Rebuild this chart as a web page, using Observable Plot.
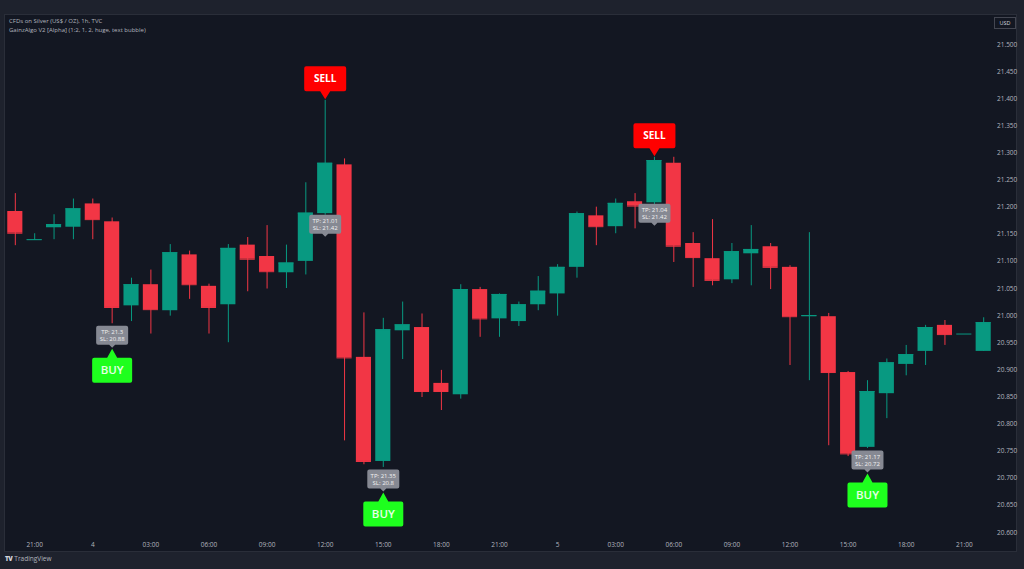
<!DOCTYPE html>
<html><head><meta charset="utf-8">
<script src="https://cdn.jsdelivr.net/npm/d3@7"></script>
<script src="https://cdn.jsdelivr.net/npm/@observablehq/plot@0.6"></script>
<style>
html,body{margin:0;padding:0;background:#1e222d;width:1024px;height:569px;overflow:hidden;font-family:"Open Sans",sans-serif;}
#pane{position:absolute;left:4px;top:14px;width:1013px;height:538px;background:#131722;border:1px solid #2a2e39;box-sizing:border-box}
#chart{position:absolute;left:0;top:14px}
#legend{position:absolute;left:9px;top:16.5px;color:#b2b5be;font-size:6px;line-height:9px;white-space:nowrap}
#usd{position:absolute;left:994px;top:17px;width:22px;height:12px;border:1px solid #434651;box-sizing:border-box;color:#d1d4dc;font-size:5.5px;line-height:10px;text-align:center}
#tv{position:absolute;left:5px;top:554px;color:#b2b5be;font-size:6.5px;white-space:nowrap}
#tv b{font-weight:900;color:#d1d4dc;letter-spacing:-0.5px;margin-right:2px}
</style></head><body>
<div id="pane"></div>
<div id="chart"></div>
<div id="legend">CFDs on Silver (US$ / OZ), 1h, TVC<br>GainzAlgo V2 [Alpha] (1:2, 1, 2, huge, text bubble)</div>
<div id="usd">USD</div>
<div id="tv"><b>TV</b>TradingView</div>
<script>
// hourly candles from day 3 20:00 to day 5 22:00
const opens  = [21.192,21.139,21.162,21.163,21.206,21.173,21.018,21.057,21.009,21.112,21.054,21.020,21.130,21.109,21.079,21.100,21.188,21.278,20.923,20.731,20.972,20.978,20.875,20.854,21.048,20.994,20.989,21.020,21.040,21.089,21.184,21.164,21.210,21.208,21.281,21.133,21.105,21.066,21.114,21.127,21.089,20.998,20.998,20.895,20.757,20.856,20.910,20.934,20.982,20.966,20.934];
const highs  = [21.225,21.151,21.186,21.215,21.215,21.180,21.069,21.084,21.131,21.119,21.058,21.131,21.144,21.166,21.130,21.245,21.397,21.289,21.005,20.995,21.025,21.003,20.899,21.057,21.052,21.040,21.025,21.072,21.094,21.191,21.200,21.215,21.225,21.292,21.292,21.153,21.177,21.133,21.166,21.133,21.092,21.153,21.004,20.897,20.880,20.920,20.945,20.982,20.991,20.966,20.996];
const lows   = [21.129,21.139,21.140,21.140,21.140,20.985,20.989,20.966,20.999,21.030,20.966,20.950,21.044,21.049,21.050,21.075,21.185,20.769,20.725,20.720,20.919,20.849,20.825,20.846,20.960,20.960,20.980,21.009,20.999,21.069,21.129,21.151,21.160,21.200,21.098,21.052,21.055,21.059,21.055,21.048,20.908,20.880,20.760,20.740,20.755,20.810,20.889,20.908,20.945,20.966,20.934];
const closes = [21.152,21.140,21.168,21.197,21.177,21.015,21.057,21.011,21.116,21.057,21.015,21.124,21.104,21.081,21.097,21.189,21.281,20.922,20.731,20.974,20.983,20.860,20.860,21.048,20.994,21.039,21.020,21.045,21.089,21.188,21.164,21.207,21.202,21.286,21.128,21.107,21.065,21.118,21.122,21.089,20.998,21.000,20.895,20.745,20.860,20.913,20.928,20.978,20.965,20.966,20.987];

// signals: candle index, type, take profit, stop loss
const sigIndex = [5, 16, 19, 33, 44];
const sigType  = ["BUY","SELL","BUY","SELL","BUY"];
const sigTP    = [21.3, 21.01, 21.35, 21.04, 21.17];
const sigSL    = [20.88, 21.42, 20.8, 21.42, 20.72];

const xTicks = [1,4,7,10,13,16,19,22,25,28,31,34,37,40,43,46,49];
const xTickLabels = ["21:00","4","03:00","06:00","09:00","12:00","15:00","18:00","21:00","5","03:00","06:00","09:00","12:00","15:00","18:00","21:00"];
const yTicks = [20.6,20.65,20.7,20.75,20.8,20.85,20.9,20.95,21.0,21.05,21.1,21.15,21.2,21.25,21.3,21.35,21.4,21.45,21.5];

const GREEN = "#089981", RED = "#f23645";
const n = opens.length;
const candles = opens.map((o, i) => ({i, open:o, high:highs[i], low:lows[i], close:closes[i], col: closes[i] >= o ? GREEN : RED}));
const signals = sigIndex.map((k, j) => ({
  i:k, type:sigType[j], label:`TP: ${sigTP[j]}\nSL: ${sigSL[j]}`,
  high:highs[k], low:lows[k], bodyLow:Math.min(opens[k], closes[k])
}));
const buys = signals.filter(d => d.type === "BUY");
const sells = signals.filter(d => d.type === "SELL");
const labelMap = new Map(xTicks.map((t, k) => [t, xTickLabels[k]]));

const sellShape = {draw(ctx) {
  ctx.moveTo(0, 0); ctx.lineTo(5, -8); ctx.lineTo(19, -8); ctx.arcTo(21, -8, 21, -10, 2);
  ctx.lineTo(21, -31); ctx.arcTo(21, -33, 19, -33, 2); ctx.lineTo(-19, -33); ctx.arcTo(-21, -33, -21, -31, 2);
  ctx.lineTo(-21, -10); ctx.arcTo(-21, -8, -19, -8, 2); ctx.lineTo(-5, -8); ctx.closePath();
}};
const buyShape = {draw(ctx) {
  ctx.moveTo(0, 0); ctx.lineTo(5, 9); ctx.lineTo(18, 9); ctx.arcTo(20, 9, 20, 11, 2);
  ctx.lineTo(20, 32); ctx.arcTo(20, 34, 18, 34, 2); ctx.lineTo(-18, 34); ctx.arcTo(-20, 34, -20, 32, 2);
  ctx.lineTo(-20, 11); ctx.arcTo(-20, 9, -18, 9, 2); ctx.lineTo(-5, 9); ctx.closePath();
}};
const infoShape = {draw(ctx) {
  ctx.moveTo(-14, 0); ctx.lineTo(14, 0); ctx.arcTo(16, 0, 16, 2, 2); ctx.lineTo(16, 17); ctx.arcTo(16, 19, 14, 19, 2);
  ctx.lineTo(3, 19); ctx.lineTo(0, 22); ctx.lineTo(-3, 19); ctx.lineTo(-14, 19); ctx.arcTo(-16, 19, -16, 17, 2);
  ctx.lineTo(-16, 2); ctx.arcTo(-16, 0, -14, 0, 2); ctx.closePath();
}};

const chart = Plot.plot({
  width: 1024, height: 537,
  marginLeft: 3, marginRight: 29, marginTop: 30, marginBottom: 19,
  style: {background: "transparent", color: "#b2b5be", fontFamily: "Open Sans, sans-serif", fontSize: "6.5px", overflow: "visible"},
  x: {type: "band", domain: d3.range(n), padding: 0.22, round: false, axis: null},
  y: {domain: [20.6, 21.5], axis: null},
  color: {type: "identity"},
  marks: [
    Plot.axisY({anchor: "right", ticks: yTicks, tickFormat: d3.format(".3f"), tickSize: 0, tickPadding: 1.5, label: null}),
    Plot.axisX({ticks: xTicks, tickFormat: d => labelMap.get(d), tickSize: 0, tickPadding: 10, label: null}),
    Plot.ruleX(candles, {x: "i", y1: "low", y2: "high", stroke: "col", strokeWidth: 1}),
    Plot.barY(candles, {x: "i", y1: "open", y2: "close", fill: "col"}),
    Plot.tickY(candles, {x: "i", y: "close", stroke: "col", strokeWidth: 1}),
    // sell signals
    Plot.dot(sells, {x: "i", y: "high", dy: -1, symbol: sellShape, fill: "#ff0000", stroke: "none"}),
    Plot.text(sells, {x: "i", y: "high", dy: -21.5, text: d => d.type, fill: "#ffffff", fontSize: 10, fontWeight: "bold", fontFamily: "Open Sans"}),
    Plot.dot(sells, {x: "i", y: "bodyLow", dy: 1, symbol: infoShape, fill: "#868993", stroke: "none"}),
    Plot.text(sells, {x: "i", y: "bodyLow", dy: 10.5, text: "label", fill: "#f2f2f2", fontSize: 6, lineHeight: 1.2}),
    // buy signals
    Plot.dot(buys, {x: "i", y: "low", dy: 2, symbol: infoShape, fill: "#868993", stroke: "none"}),
    Plot.text(buys, {x: "i", y: "low", dy: 11.5, text: "label", fill: "#f2f2f2", fontSize: 6, lineHeight: 1.2}),
    Plot.dot(buys, {x: "i", y: "low", dy: 25, symbol: buyShape, fill: "#1eff1e", stroke: "none"}),
    Plot.text(buys, {x: "i", y: "low", dy: 46.5, text: d => d.type, fill: "#e6ffe6", fontSize: 11.5, fontWeight: 600, fontFamily: "Open Sans"})
  ]
});
document.getElementById("chart").appendChild(chart);
</script>
</body></html>
